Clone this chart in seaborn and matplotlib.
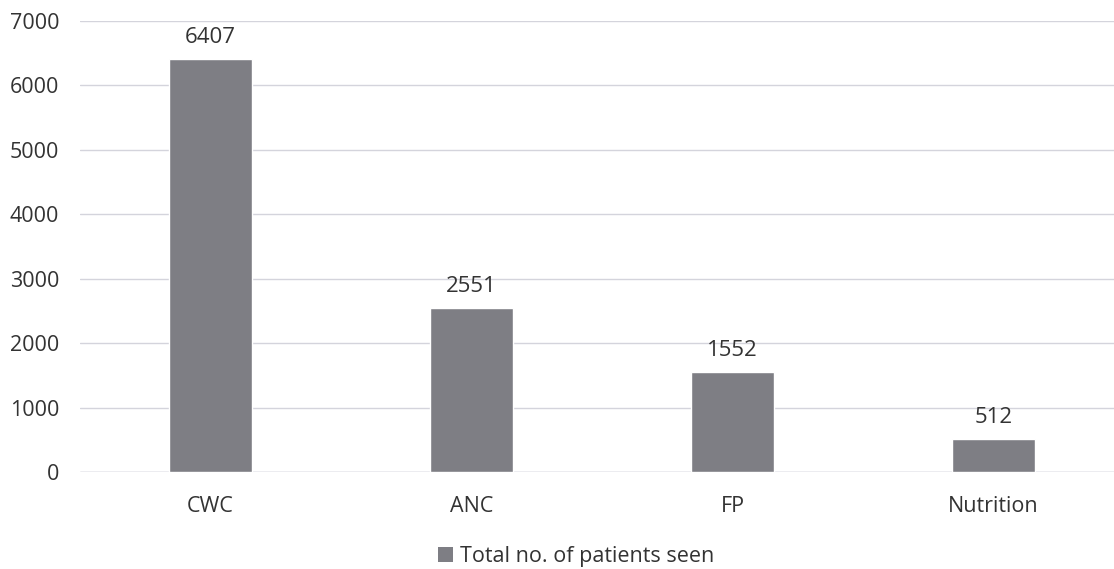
import matplotlib
matplotlib.use("Agg")
import matplotlib.pyplot as plt
import seaborn as sns
import pandas as pd
from matplotlib.patches import Patch

categories = ["CWC", "ANC", "FP", "Nutrition"]
patients_seen = [6407, 2551, 1552, 512]
series_name = "Total no. of patients seen"
y_ticks = [0, 1000, 2000, 3000, 4000, 5000, 6000, 7000]

sns.set_theme(style="white")
plt.rcParams['font.family'] = ['Open Sans', 'DejaVu Sans']

bar_color = "#7e7e84"
text_color = "#333333"

df = pd.DataFrame({"category": categories, "value": patients_seen})

fig = plt.figure(figsize=(11.14, 5.69), dpi=100)
ax = fig.add_axes([80/1114, 97/569, 1044/1114, 451/569])

sns.barplot(data=df, x="category", y="value", color=bar_color, width=0.315,
            saturation=1, ax=ax, zorder=3)

ax.set_ylim(0, 7000)
ax.set_xlim(-0.5, 3.5)
ax.set_yticks(y_ticks)
ax.set_yticklabels([str(t) for t in y_ticks])
ax.yaxis.grid(True, color="#d4d4dc", linewidth=1.0, zorder=0)
ax.xaxis.grid(False)
for s in ax.spines.values():
    s.set_visible(False)
ax.axhline(0, color="#c8c8d0", linewidth=1.0, zorder=2)
ax.tick_params(axis="y", length=0, pad=15, labelsize=15.5, labelcolor=text_color)
ax.tick_params(axis="x", length=0, pad=17, labelsize=15.5, labelcolor=text_color)
ax.set_xlabel("")
ax.set_ylabel("")

for c in ax.containers:
    ax.bar_label(c, labels=[str(v) for v in patients_seen], padding=8,
                 fontsize=16, color=text_color)

handle = Patch(facecolor=bar_color, edgecolor="none")
fig.legend([handle], [series_name], loc="center", bbox_to_anchor=(0.517, 0.022),
           frameon=False, fontsize=15.5, handlelength=0.7, handleheight=0.7,
           handletextpad=0.3, labelcolor=text_color)

fig.savefig("out.png", dpi=100)
